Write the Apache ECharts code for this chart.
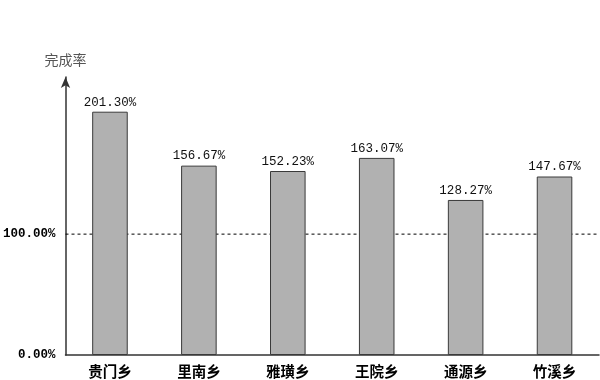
<!DOCTYPE html>
<html><head><meta charset="utf-8">
<script src="https://cdn.jsdelivr.net/npm/echarts@6/dist/echarts.min.js"></script>
<style>html,body{margin:0;padding:0;background:#fff}#c{width:600px;height:380px}</style>
</head><body><div id="c"></div>
<script>
const categories = ['贵门乡','里南乡','雅璜乡','王院乡','通源乡','竹溪乡'];
const values = [201.30, 156.67, 152.23, 163.07, 128.27, 147.67];
const yTickLabels = {0: '0.00%', 100: '100.00%'};
const targetLine = [100, 100];

const chart = echarts.init(document.getElementById('c'));
chart.setOption({
  animation: false,
  grid: {left: 65, right: 1, top: 77, bottom: 25},
  xAxis: [{
    type: 'category', data: categories,
    axisLine: {lineStyle: {color: '#333', width: 1.5}},
    axisTick: {inside: true, length: 4, lineStyle: {color: '#333'}},
    axisLabel: {margin: 9, color: '#000', fontWeight: 'bold', fontSize: 14.5, fontFamily: 'Noto Sans CJK SC'}
  }, {
    type: 'category', data: ['a','b'], boundaryGap: false, show: false
  }],
  yAxis: {
    type: 'value', min: 0, max: 230, interval: 100,
    name: '完成率', nameLocation: 'end', nameGap: 10,
    nameTextStyle: {color: '#555', fontSize: 14, fontFamily: 'Noto Sans CJK SC', align: 'center'},
    axisLine: {show: true, symbol: ['none', 'arrow'], symbolSize: [7, 11], lineStyle: {color: '#333', width: 1.5}},
    axisTick: {show: false},
    splitLine: {show: false},
    axisLabel: {
      margin: 10, color: '#000', fontWeight: 'bold', fontSize: 12.5, fontFamily: 'Liberation Mono',
      formatter: v => yTickLabels[v] !== undefined ? yTickLabels[v] : ''
    }
  },
  series: [{
    type: 'line', xAxisIndex: 1, data: targetLine, z: 1, symbol: 'none', silent: true,
    lineStyle: {color: '#000', width: 1, type: [3, 3]}
  }, {
    type: 'bar', data: values, barWidth: '40%', z: 3,
    itemStyle: {color: '#b1b1b1', borderColor: '#3a3a3a', borderWidth: 1},
    label: {show: true, position: 'top', distance: 3, color: '#111', fontSize: 12.5, fontFamily: 'Liberation Mono',
      formatter: p => p.value.toFixed(2) + '%'}
  }]
});
</script></body></html>
